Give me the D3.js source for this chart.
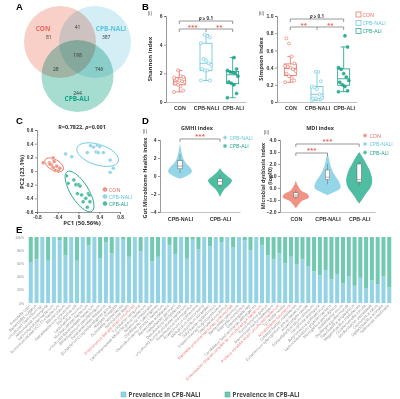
<!DOCTYPE html>
<html>
<head>
<meta charset="utf-8">
<script src="https://cdn.jsdelivr.net/npm/d3@7"></script>
<style>
  body { margin: 0; background: #fff; }
  svg { display: block; font-family: "Open Sans", "Liberation Sans", sans-serif; }
</style>
</head>
<body>
<div id="fig"></div>
<script>
// ---------------- data ----------------
const groups = ["CON", "CPB-NALI", "CPB-ALI"];
const lineColor = { "CON": "#e8685b", "CPB-NALI": "#5cc3dd", "CPB-ALI": "#16a185" };
const fillColor = { "CON": "#f09384", "CPB-NALI": "#94d5e8", "CPB-ALI": "#4fbda2" };

// A: venn
const vennFill = { "CON": "#f8d0c8", "CPB-NALI": "#d3eef5", "CPB-ALI": "#a6ddd0" };
const vennRegions = [["CON"], ["CPB-NALI"], ["CPB-ALI"], ["CON", "CPB-NALI"], ["CON", "CPB-ALI"], ["CPB-NALI", "CPB-ALI"], ["CON", "CPB-NALI", "CPB-ALI"]];
const vennCounts = [81, 387, 244, 41, 28, 746, 198];

// B: alpha diversity
const shannon = {
  "CON": [0.7, 0.8, 1.1, 1.2, 1.3, 1.4, 1.45, 1.5, 1.6, 1.7, 1.75, 1.8, 2.2],
  "CPB-NALI": [1.5, 1.5, 2.2, 2.2, 2.3, 2.6, 2.7, 2.9, 3.0, 4.1, 4.5, 4.6, 4.7],
  "CPB-ALI": [0.3, 0.6, 1.2, 1.3, 1.4, 1.8, 2.0, 2.05, 2.1, 2.2, 2.3, 3.1]
};
const simpson = {
  "CON": [0.23, 0.25, 0.28, 0.30, 0.33, 0.36, 0.38, 0.40, 0.41, 0.42, 0.45, 0.53, 0.68, 0.74],
  "CPB-NALI": [0.02, 0.03, 0.03, 0.04, 0.04, 0.05, 0.09, 0.15, 0.17, 0.18, 0.24, 0.35, 0.35],
  "CPB-ALI": [0.12, 0.13, 0.18, 0.20, 0.23, 0.25, 0.29, 0.33, 0.38, 0.40, 0.64, 0.77]
};

// C: PCoA
const pcCON = [[-0.68, 0.12], [-0.56, 0.12], [-0.49, 0.19], [-0.47, 0.14], [-0.52, 0.09], [-0.42, 0.07], [-0.45, 0.01], [-0.39, 0.0], [-0.36, 0.04], [-0.49, 0.05], [-0.55, 0.10]];
const pcNALI = [[-0.13, 0.21], [0.17, 0.27], [0.23, 0.37], [0.29, 0.35], [0.36, 0.38], [0.34, 0.28], [0.38, 0.27], [0.41, 0.36], [0.48, 0.27], [0.61, 0.16], [0.67, 0.04], [0.61, -0.02], [-0.25, 0.25]];
const pcALI = [[-0.23, -0.07], [-0.20, -0.18], [-0.09, -0.13], [-0.05, -0.20], [0.0, -0.20], [0.03, -0.22], [-0.02, -0.33], [0.06, -0.35], [0.09, -0.45], [0.14, -0.40], [0.19, -0.33], [0.21, -0.35], [0.17, -0.53], [0.22, -0.45]];
// ellipse: centre x, centre y, semi-axis along, semi-axis across, angle (deg)
const ellCON = [-0.47, 0.09, 0.2, 0.08, 30];
const ellNALI = [0.37, 0.24, 0.42, 0.15, 18];
const ellALI = [0.02, -0.30, 0.45, 0.13, 58];

// D: GMHI and MDI violins  [value, relative density]
const gmhiViolin = {
  "CPB-NALI": [[3.6, 0], [3.0, 0.08], [2.5, 0.15], [2.0, 0.25], [1.5, 0.45], [1.0, 0.8], [0.5, 1], [0.0, 0.55], [-0.3, 0]],
  "CPB-ALI": [[0.9, 0], [0.5, 0.2], [0.0, 0.6], [-0.5, 1], [-1.0, 0.75], [-1.5, 0.35], [-2.0, 0.12], [-2.3, 0]]
};
const gmhiBox = { "CPB-NALI": [0.3, 0.8, 1.1, 1.7, 2.4], "CPB-ALI": [-1.3, -1.0, -0.6, -0.3, 0.1] };
const mdiViolin = {
  "CON": [[0.6, 0], [0.2, 0.15], [-0.2, 0.4], [-0.5, 0.9], [-0.8, 1], [-1.1, 0.45], [-1.4, 0.2], [-1.7, 0]],
  "CPB-NALI": [[2.9, 0], [2.5, 0.1], [2.0, 0.2], [1.5, 0.35], [1.0, 0.6], [0.5, 0.9], [0.0, 1], [-0.3, 0.6], [-0.6, 0]],
  "CPB-ALI": [[3.0, 0], [2.5, 0.3], [2.0, 0.55], [1.5, 0.8], [1.0, 0.95], [0.5, 1], [0.0, 0.85], [-0.5, 0.5], [-1.0, 0.2], [-1.3, 0]]
};
const mdiBox = { "CON": [-0.9, -0.75, -0.6, -0.4, -0.2], "CPB-NALI": [0.3, 0.7, 0.9, 1.5, 2.0], "CPB-ALI": [0.2, 0.5, 0.7, 2.0, 2.2] };

// E: prevalence of taxa
const taxa = [
  "Prevotella copri", "Bacteroides vulgatus", "uncultured Clostridium sp.", "Akkermansia muciniphila",
  "Lachnospiraceae bacterium", "Ruminococcaceae UCG-014 bacterium", "Blautia obeum", "Faecalibacterium prausnitzii", "Escherichia coli",
  "Lactobacillus murinus", "Muribaculaceae bacterium", "uncultured Bacteroidales bacterium", "Bifidobacterium pseudolongum",
  "Parabacteroides distasonis", "[Eubacterium] coprostanoligenes group", "Alistipes finegoldii", "Dubosiella newyorkensis",
  "Romboutsia ilealis", "Enterococcus faecalis strain uncultured", "Turicibacter sanguinis", "Lachnospiraceae NK4A136 group bacterium",
  "Roseburia intestinalis", "Oscillibacter valericigenes", "Clostridium sensu stricto 1 bacterium", "Bacteroides acidifaciens",
  "Helicobacter ganmani", "Desulfovibrio fairfieldensis", "uncultured Ruminococcaceae bacterium", "Streptococcus thermophilus",
  "Anaerotruncus colihominis", "Allobaculum stercoricanis", "Mucispirillum schaedleri", "Odoribacter splanchnicus",
  "Intestinimonas butyriciproducens", "Staphylococcus lentus", "Klebsiella pneumoniae subsp. pneumoniae", "Bacteroides caecimuris",
  "Rikenella microfusus", "Eisenbergiella tayi", "Candidatus Saccharimonas aalborgensis",
  "Enterobacter cloacae complex sp. uncultured gut bacterium", "Ruminococcus gnavus", "Marvinbryantia formatexigens",
  "Proteus mirabilis strain uncultured bacterium", "Tyzzerella nexilis", "Acinetobacter baumannii", "Colidextribacter massiliensis",
  "Eubacterium xylanophilum group bacterium", "Anaerostipes caccae", "Erysipelatoclostridium ramosum", "Harryflintia acetispora",
  "Butyricicoccus pullicaecorum", "Lachnoclostridium phytofermentans", "Monoglobus pectinilyticus", "Acetatifactor muris",
  "Oscillospira guilliermondii", "Paenibacillus amylolyticus", "Negativibacillus massiliensis", "Christensenella minuta",
  "Gordonibacter pamelaeae", "Coprococcus catus", "Ligilactobacillus animalis", "Sellimonas intestinalis"
];
const redTaxa = [18, 35, 40, 43, 45];
const prevNALI = [62, 66, 100, 64, 100, 95, 72, 100, 64, 100, 88, 100, 68,
  92, 75, 100, 96, 70, 100, 78, 100, 63, 70, 100, 88, 74, 100, 67, 96, 81,
  100, 86, 100, 92, 100, 84, 100, 95, 80, 100, 88,
  72, 66, 75, 60, 70, 58, 66, 55,
  48, 42, 50, 36, 44, 30, 40, 26, 38, 22, 34, 28, 40, 24];
const prevALI = [38, 34, 0, 36, 0, 5, 28, 0, 36, 0, 12, 0, 32,
  8, 25, 0, 4, 30, 0, 22, 0, 37, 30, 0, 12, 26, 0, 33, 4, 19,
  0, 14, 0, 8, 0, 16, 0, 5, 20, 0, 12,
  28, 34, 25, 40, 30, 42, 34, 45,
  52, 58, 50, 64, 56, 70, 60, 74, 62, 78, 66, 72, 60, 76];
const prevTicks = [0, 20, 40, 60, 80, 100];

// ---------------- drawing ----------------
const svg = d3.select("#fig").append("svg").attr("width", 400).attr("height", 399);
const dark = "#333";

function panelLabel(t, x, y) {
  svg.append("text").attr("x", x).attr("y", y).attr("font-size", 9.5)
    .attr("font-weight", "bold").attr("font-family", "Liberation Sans, Arial, sans-serif").text(t);
}
function styleAxis(g, fs) {
  g.selectAll("text").attr("font-size", fs).attr("fill", dark).attr("font-weight", "bold");
  g.selectAll("line,path").attr("stroke", "#555").attr("stroke-width", 0.6);
}
function small(x, y, t, opts = {}) {
  const el = svg.append("text").attr("x", x).attr("y", y).attr("font-size", opts.fs || 5)
    .attr("font-weight", opts.weight || "bold").attr("fill", opts.fill || dark)
    .attr("text-anchor", opts.anchor || "middle").text(t);
  if (opts.rotate) el.attr("transform", `rotate(-90,${x},${y})`);
  return el;
}

panelLabel("A", 16, 10);
panelLabel("B", 142, 10);
panelLabel("C", 16, 124);
panelLabel("D", 142, 124);
panelLabel("E", 16, 233);

// ----- A: venn -----
const vx = d3.scaleLinear().domain([0, 1]).range([60, 95]);
const vennCentre = {
  "CON": [vx(0), 42], "CPB-NALI": [vx(1), 42], "CPB-ALI": [vx(0.5), 76]
};
const vr = 36;
const vg = svg.append("g");
groups.forEach(k => {
  vg.append("circle").attr("cx", vennCentre[k][0]).attr("cy", vennCentre[k][1]).attr("r", vr)
    .attr("fill", vennFill[k]).style("mix-blend-mode", "multiply");
});
const gc = [d3.mean(groups, k => vennCentre[k][0]), d3.mean(groups, k => vennCentre[k][1])];
vennRegions.forEach((reg, i) => {
  let dx = 0, dy = 0;
  groups.forEach(k => {
    const s = reg.includes(k) ? 1 : -1;
    dx += s * (vennCentre[k][0] - gc[0]);
    dy += s * (vennCentre[k][1] - gc[1]);
  });
  const f = reg.length === 1 ? 0.82 : 0.62;
  small(gc[0] + dx * f, gc[1] + dy * f + 4, vennCounts[i], { fs: 5, weight: "normal" });
});
small(43, 31, "CON", { fs: 6.5, fill: lineColor["CON"] });
small(111, 31, "CPB-NALI", { fs: 6.5, fill: lineColor["CPB-NALI"] });
small(77, 101, "CPB-ALI", { fs: 6.5, fill: lineColor["CPB-ALI"] });

// ----- B: box plots -----
function tukey(vals) {
  const s = vals.slice().sort(d3.ascending);
  const q1 = d3.quantile(s, 0.25), med = d3.quantile(s, 0.5), q3 = d3.quantile(s, 0.75);
  const iqr = q3 - q1;
  const lo = d3.min(s.filter(v => v >= q1 - 1.5 * iqr));
  const hi = d3.max(s.filter(v => v <= q3 + 1.5 * iqr));
  return { q1, med, q3, lo, hi };
}
function boxPanel(data, x0, x1, yDom, yTicks, fmt, title, tag, brk) {
  const y = d3.scaleLinear().domain(yDom).range([102, 16]);
  const x = d3.scalePoint().domain(groups).range([x0, x1]).padding(0.5);
  const ya = svg.append("g").attr("transform", `translate(${x0},0)`)
    .call(d3.axisLeft(y).tickValues(yTicks).tickFormat(fmt).tickSize(2).tickPadding(1.5));
  styleAxis(ya, 5);
  const xa = svg.append("g").attr("transform", "translate(0,102)")
    .call(d3.axisBottom(x).tickSize(0).tickPadding(4));
  styleAxis(xa, 5.3);
  xa.select("path").attr("stroke", "#999");
  small(x0 - 14, 59, title, { fs: 6, rotate: true });
  small(x0 - 18, 15, tag, { fs: 4.5, weight: "normal", anchor: "start" });

  groups.forEach(g => {
    const st = tukey(data[g]);
    const cx = x(g), bw = 6, c = lineColor[g];
    const gg = svg.append("g").attr("stroke", c).attr("stroke-width", 0.8).attr("fill", "none");
    gg.append("line").attr("x1", cx).attr("x2", cx).attr("y1", y(st.hi)).attr("y2", y(st.q3));
    gg.append("line").attr("x1", cx).attr("x2", cx).attr("y1", y(st.q1)).attr("y2", y(st.lo));
    gg.append("line").attr("x1", cx - 3).attr("x2", cx + 3).attr("y1", y(st.hi)).attr("y2", y(st.hi));
    gg.append("line").attr("x1", cx - 3).attr("x2", cx + 3).attr("y1", y(st.lo)).attr("y2", y(st.lo));
    gg.append("rect").attr("x", cx - bw).attr("width", bw * 2).attr("y", y(st.q3)).attr("height", y(st.q1) - y(st.q3));
    gg.append("line").attr("x1", cx - bw).attr("x2", cx + bw).attr("y1", y(st.med)).attr("y2", y(st.med));
    svg.append("g").selectAll("circle").data(data[g]).join("circle")
      .attr("cx", (d, i) => cx + ((i * 7) % 9 - 4) * 1.3)
      .attr("cy", d => y(d)).attr("r", 1.5)
      .attr("fill", g === "CPB-ALI" ? c : "#fff").attr("fill-opacity", g === "CPB-ALI" ? 0.85 : 1)
      .attr("stroke", c).attr("stroke-width", 0.6);
  });

  // significance brackets
  const bx0 = x(groups[0]), bx1 = x(groups[1]), bx2 = x(groups[2]);
  const b = svg.append("g").attr("stroke", "#555").attr("stroke-width", 0.6).attr("fill", "none");
  b.append("path").attr("d", `M${bx0},${brk + 3}V${brk}H${bx2}V${brk + 3}`);
  b.append("path").attr("d", `M${bx0},${brk + 11}V${brk + 8}H${bx2}V${brk + 11}M${bx1},${brk + 8}V${brk + 11}`);
  const pt = small((bx0 + bx2) / 2, brk - 1.5, "", { fs: 4.5 });
  pt.append("tspan").attr("font-style", "italic").text("p");
  pt.append("tspan").text(" \u2265 0.1");
  return { bx0, bx1, bx2 };
}
const bi = boxPanel(shannon, 166, 246, [0, 6], [0, 2, 4, 6], d3.format("d"), "Shannon index", "(i)", 21);
small((bi.bx0 + bi.bx1) / 2, 28.5, "***", { fs: 6, fill: lineColor["CON"] });
small((bi.bx1 + bi.bx2) / 2, 28.5, "**", { fs: 6, fill: lineColor["CON"] });
const bii = boxPanel(simpson, 277, 357, [0, 1], [0, 0.2, 0.4, 0.6, 0.8, 1.0], d => d === 0 ? "0" : d.toFixed(1), "Simpson index", "(ii)", 19);
small((bii.bx0 + bii.bx1) / 2, 26.5, "**", { fs: 6, fill: lineColor["CON"] });
small((bii.bx1 + bii.bx2) / 2, 26.5, "**", { fs: 6, fill: lineColor["CON"] });

groups.forEach((g, i) => {
  svg.append("rect").attr("x", 356).attr("y", 12 + i * 8.3).attr("width", 5).attr("height", 5)
    .attr("fill", "none").attr("stroke", lineColor[g]).attr("stroke-width", 0.7);
  small(362.5, 16.5 + i * 8.3, g, { fs: 5.3, weight: "normal", fill: lineColor[g], anchor: "start" });
});

// ----- C: PCoA -----
const cx = d3.scaleLinear().domain([-0.8, 0.8]).range([37, 120]);
const cy = d3.scaleLinear().domain([-0.6, 0.6]).range([212, 130]);
const cxa = svg.append("g").attr("transform", "translate(0,212)")
  .call(d3.axisBottom(cx).tickValues([-0.8, -0.4, 0, 0.4, 0.8]).tickFormat(d => d === 0 ? "0" : d.toFixed(1)).tickSize(2).tickPadding(1.5));
styleAxis(cxa, 4.8);
const cya = svg.append("g").attr("transform", "translate(37,0)")
  .call(d3.axisLeft(cy).tickValues([-0.6, -0.4, -0.2, 0, 0.2, 0.4, 0.6]).tickFormat(d => d === 0 ? "0" : d.toFixed(1)).tickSize(2).tickPadding(1.5));
styleAxis(cya, 4.8);
small(82, 225, "PC1 (50.56%)", { fs: 6 });
small(24, 172, "PC2 (23.1%)", { fs: 6, rotate: true });
const rt = small(82, 129, "R=0.7822, ", { fs: 5.5 });
rt.append("tspan").attr("font-style", "italic").text("p");
rt.append("tspan").text("=0.001");

[["CON", pcCON, ellCON], ["CPB-NALI", pcNALI, ellNALI], ["CPB-ALI", pcALI, ellALI]].forEach(([g, pts, e]) => {
  const kx = cx(1) - cx(0), ky = cy(0) - cy(1);
  svg.append("ellipse").attr("cx", cx(e[0])).attr("cy", cy(e[1]))
    .attr("rx", e[2] * kx).attr("ry", e[3] * ky)
    .attr("transform", `rotate(${e[4]},${cx(e[0])},${cy(e[1])})`)
    .attr("fill", "none").attr("stroke", lineColor[g]).attr("stroke-width", 0.8);
  svg.append("g").selectAll("circle").data(pts).join("circle")
    .attr("cx", d => cx(d[0])).attr("cy", d => cy(d[1])).attr("r", 1.9)
    .attr("fill", fillColor[g]).attr("stroke", "#fff").attr("stroke-width", 0.3);
});
groups.forEach((g, i) => {
  svg.append("circle").attr("cx", 105).attr("cy", 189.5 + i * 7).attr("r", 2)
    .attr("fill", fillColor[g]).attr("stroke", lineColor[g]).attr("stroke-width", 0.4);
  small(109, 191.5 + i * 7, g, { fs: 5.3, weight: "normal", fill: lineColor[g], anchor: "start" });
});

// ----- D: violins -----
function violinPanel(vio, box, grp, x0, x1, yDom, yTicks, hw, legendX, legendY) {
  const y = d3.scaleLinear().domain(yDom).range([212, 140]);
  const x = d3.scalePoint().domain(grp).range([x0, x1]).padding(0.5);
  const ya = svg.append("g").attr("transform", `translate(${x0},0)`)
    .call(d3.axisLeft(y).tickValues(yTicks).tickSize(2).tickPadding(1.5));
  styleAxis(ya, 5);
  const xa = svg.append("g").attr("transform", "translate(0,212)")
    .call(d3.axisBottom(x).tickSize(0).tickPadding(5));
  styleAxis(xa, 5.3);
  xa.select("path").attr("stroke", "#999");
  grp.forEach(g => {
    const c = x(g);
    const area = d3.area().curve(d3.curveCatmullRom)
      .y(d => y(d[0])).x0(d => c - d[1] * hw).x1(d => c + d[1] * hw);
    svg.append("path").attr("d", area(vio[g])).attr("fill", fillColor[g]).attr("stroke", "none");
    const b = box[g];
    const bg = svg.append("g").attr("stroke", "#666").attr("stroke-width", 0.5);
    bg.append("line").attr("x1", c).attr("x2", c).attr("y1", y(b[0])).attr("y2", y(b[4]));
    bg.append("rect").attr("x", c - 2.2).attr("width", 4.4).attr("y", y(b[3])).attr("height", y(b[1]) - y(b[3])).attr("fill", "#fff");
    bg.append("line").attr("x1", c - 2.2).attr("x2", c + 2.2).attr("y1", y(b[2])).attr("y2", y(b[2]));
  });
  grp.forEach((g, i) => {
    svg.append("circle").attr("cx", legendX).attr("cy", legendY + i * 8.5).attr("r", 2)
      .attr("fill", fillColor[g]).attr("stroke", "#fff").attr("stroke-width", 0.4);
    small(legendX + 4.5, legendY + 2 + i * 8.5, g, { fs: 5.3, weight: "normal", fill: lineColor[g], anchor: "start" });
  });
  return x;
}
const dX = violinPanel(gmhiViolin, gmhiBox, ["CPB-NALI", "CPB-ALI"], 160, 240, [-4, 4], [-4, -2, 0, 2, 4], 12, 225, 137.5);
small(147, 178, "Gut Microbiome Health index", { fs: 5.5, rotate: true });
small(143, 133, "(i)", { fs: 4.5, weight: "normal", anchor: "start" });
small(197, 130, "GMHI index", { fs: 5.5 });
svg.append("path").attr("d", `M${dX("CPB-NALI")},142V139H${dX("CPB-ALI")}V142`).attr("fill", "none").attr("stroke", "#555").attr("stroke-width", 0.6);
small(200, 137.5, "***", { fs: 6, fill: lineColor["CON"] });

const mX = violinPanel(mdiViolin, mdiBox, groups, 280, 375, [-2, 4], [-2, -1, 0, 1, 2, 3, 4], 13, 365, 135.5);
small(265, 176, "Microbial dysbiosis index", { fs: 5.3, rotate: true });
small(272, 176, "(log10)", { fs: 5.3, rotate: true });
small(264, 134, "(ii)", { fs: 4.5, weight: "normal", anchor: "start" });
small(320, 130, "MDI index", { fs: 5.5 });
svg.append("path").attr("d", `M${mX("CON")},147V144H${mX("CPB-ALI")}V147`).attr("fill", "none").attr("stroke", "#555").attr("stroke-width", 0.6);
svg.append("path").attr("d", `M${mX("CON")},156V153H${mX("CPB-NALI")}V156`).attr("fill", "none").attr("stroke", "#555").attr("stroke-width", 0.6);
small((mX("CON") + mX("CPB-ALI")) / 2, 142.5, "***", { fs: 6, fill: lineColor["CON"] });
small((mX("CON") + mX("CPB-NALI")) / 2, 151.5, "***", { fs: 6, fill: lineColor["CON"] });

// ----- E: stacked prevalence bars -----
const eColor = { nali: "#93d3e4", ali: "#72c9b1" };
const ex = d3.scaleBand().domain(taxa).range([27, 393]).padding(0.3);
const ey = d3.scaleLinear().domain([0, 100]).range([303, 237]);
const eya = svg.append("g").attr("transform", "translate(25,0)")
  .call(d3.axisLeft(ey).tickValues(prevTicks).tickFormat(d => d + "%").tickSize(0).tickPadding(1));
eya.select("path").remove();
eya.selectAll("text").attr("font-size", 3.4).attr("fill", "#888");

const stackRows = taxa.map((t, i) => ({ taxon: t, nali: prevNALI[i], ali: prevALI[i] }));
const stacked = d3.stack().keys(["nali", "ali"])(stackRows);
svg.append("g").selectAll("g").data(stacked).join("g")
  .attr("fill", d => eColor[d.key])
  .selectAll("rect").data(d => d).join("rect")
  .attr("x", d => ex(d.data.taxon)).attr("width", ex.bandwidth())
  .attr("y", d => ey(d[1])).attr("height", d => ey(d[0]) - ey(d[1]));

svg.append("g").selectAll("text").data(taxa).join("text")
  .attr("transform", d => `translate(${ex(d) + ex.bandwidth() / 2},306) rotate(-45)`)
  .attr("text-anchor", "end").attr("font-size", 3.8)
  .attr("fill", (d, i) => redTaxa.includes(i) ? "#ee6b6b" : "#8a8a8a")
  .text(d => d);

[["nali", "Prevalence in CPB-NALI", 121], ["ali", "Prevalence in CPB-ALI", 225]].forEach(([k, t, lx]) => {
  svg.append("rect").attr("x", lx).attr("y", 392).attr("width", 5).attr("height", 5)
    .attr("fill", eColor[k]).attr("stroke", k === "nali" ? "#5cb8d0" : "#3aa88c").attr("stroke-width", 0.5);
  small(lx + 7.5, 396.8, t, { fs: 6.2, anchor: "start", fill: "#444" });
});
</script>
</body>
</html>
